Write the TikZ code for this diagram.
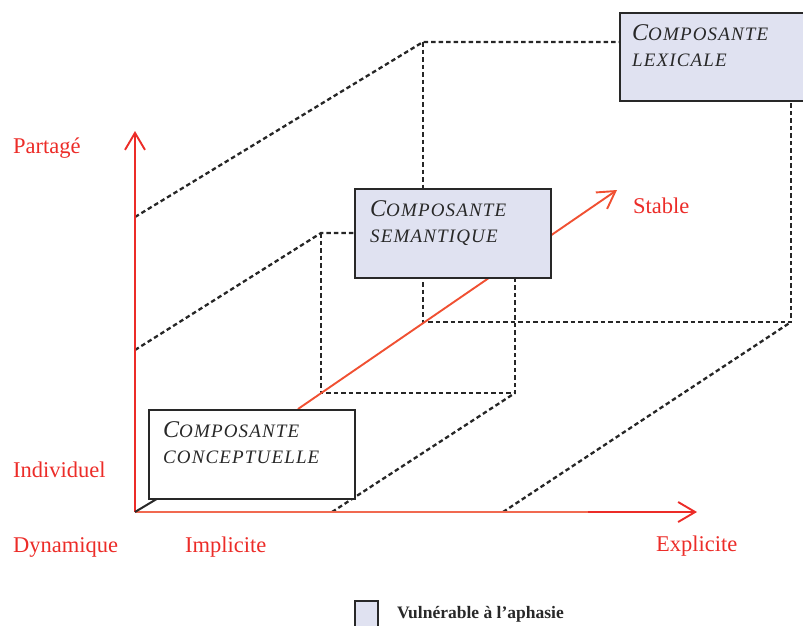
\documentclass[tikz,border=0pt]{standalone}
\usepackage{fontspec}
\setmainfont{Liberation Serif}
\newfontfamily\scfont[LetterSpace=6]{Liberation Serif}
\usetikzlibrary{arrows.meta,calc}
\definecolor{axred}{RGB}{236,44,40}
\definecolor{axlight}{RGB}{241,105,80}
\definecolor{stablered}{RGB}{240,80,50}
\definecolor{dashgray}{RGB}{38,38,38}
\definecolor{vuln}{RGB}{224,226,241}
\definecolor{txtgray}{RGB}{40,40,40}
\newcommand\mySC[2]{{\scfont\itshape\fontsize{24}{26}\selectfont #1\fontsize{19}{26}\selectfont #2}}
\begin{document}
\begin{tikzpicture}[x=1pt,y=-1pt,
  hid/.style={draw=dashgray, line width=2.3pt, dash pattern=on 4.5pt off 3pt},
  barb/.style={-{Straight Barb[length=17pt,width=20pt,line width=1.9pt]}},
  lab/.style={text=axred, font=\fontsize{22.5}{26}\selectfont, anchor=base west, inner sep=0pt},
  comp/.style={draw=txtgray, line width=2pt, anchor=north west, inner sep=0pt},
  ctext/.style={anchor=base west, inner sep=0pt, text=txtgray}]
\useasboundingbox (0,0) rectangle (803,625);

% key points
\coordinate (O) at (135,512);
\coordinate (Ytip) at (135,131);
\coordinate (Xmid) at (588,512);
\coordinate (Xtip) at (697,512);
% cube 3 (large)
\coordinate (c3a) at (135,217);
\coordinate (c3b) at (423,42);
\coordinate (c3c) at (423,322);
\coordinate (c3d) at (791,322);
\coordinate (c3e) at (503,512);
\coordinate (c3f) at (791,100);
\coordinate (c3g) at (619,42);
% cube 2 (medium)
\coordinate (c2a) at (135,350);
\coordinate (c2b) at (321,233);
\coordinate (c2c) at (321,393);
\coordinate (c2d) at (515,393);
\coordinate (c2e) at (332,512);
\coordinate (c2f) at (515,277);
\coordinate (c2g) at (354,233);
% depth axis
\coordinate (Sstart) at (298,409);
\coordinate (Stip) at (617,190);
\coordinate (Bend) at (160,497);

% hidden edges
\draw[hid] (c3a) -- (c3b) -- (c3g);
\draw[hid] (c3b) -- (c3c) -- (c3d) -- (c3f);
\draw[hid] (c3e) -- (c3d);
\draw[hid] (c2a) -- (c2b) -- (c2g);
\draw[hid] (c2b) -- (c2c) -- (c2d) -- (c2f);
\draw[hid] (c2e) -- (c2d);

% axes
\draw[axred, line width=1.9pt, barb] (O) -- (Ytip);
\draw[axlight, line width=1.9pt] (O) -- (Xmid);
\draw[axred, line width=1.9pt, barb] (Xmid) -- (Xtip);
\draw[stablered, line width=1.9pt, barb] (Sstart) -- (Stip);
\draw[txtgray, line width=2pt] (O) -- (Bend);

% component boxes
\node[comp, fill=white, minimum width=206pt, minimum height=89pt] (concept) at (148,409) {};
\node[comp, fill=vuln, minimum width=196pt, minimum height=89pt] (seman) at (354,188) {};
\node[comp, fill=vuln, minimum width=184pt, minimum height=88pt] (lexic) at (619,12) {};

\node[ctext] (concept1) at ($(concept.north west)+(15,28)$) {\mySC{C}{OMPOSANTE}};
\node[ctext] (concept2) at ($(concept.north west)+(15,54)$) {\mySC{}{CONCEPTUELLE}};
\node[ctext] (seman1) at ($(seman.north west)+(16,28)$) {\mySC{C}{OMPOSANTE}};
\node[ctext] (seman2) at ($(seman.north west)+(16,54)$) {\mySC{}{SEMANTIQUE}};
\node[ctext] (lexic1) at ($(lexic.north west)+(13,28)$) {\mySC{C}{OMPOSANTE}};
\node[ctext] (lexic2) at ($(lexic.north west)+(13,54)$) {\mySC{}{LEXICALE}};

% axis labels
\node[lab] (partage) at (13,153) {Partagé};
\node[lab] (indiv) at (13,477) {Individuel};
\node[lab] (dyn) at (13,552) {Dynamique};
\node[lab] (impl) at (185,552) {Implicite};
\node[lab] (expl) at (656,551) {Explicite};
\node[lab] (stable) at (633,213) {Stable};

% legend
\node[draw=txtgray, line width=2pt, fill=vuln, anchor=north west, minimum width=23pt, minimum height=32pt, inner sep=0pt] (legbox) at (354,600) {};
\node[anchor=base west, inner sep=0pt, text=txtgray, font=\bfseries\fontsize{17.5}{19}\selectfont] (legtext) at (397,618) {Vulnérable à l’aphasie};
\end{tikzpicture}
\end{document}
